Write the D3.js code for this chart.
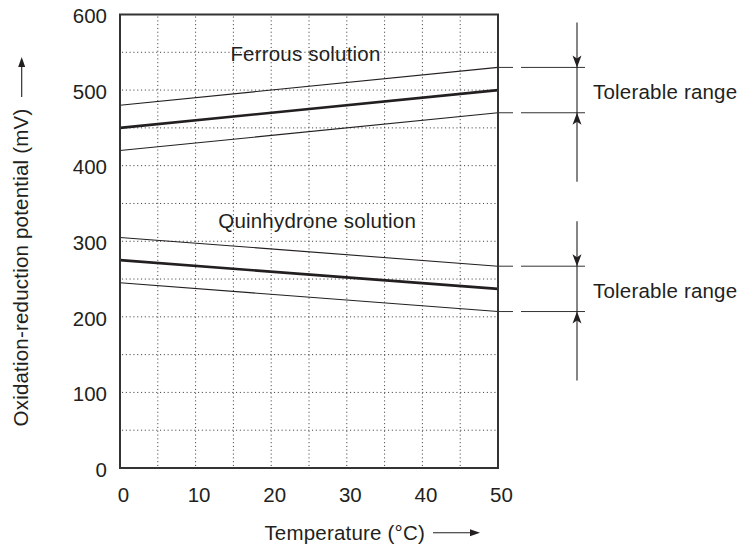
<!DOCTYPE html>
<html>
<head>
<meta charset="utf-8">
<script src="https://cdn.jsdelivr.net/npm/d3@7"></script>
<style>
  html, body { margin: 0; padding: 0; background: #fff; }
  svg { display: block; }
  text { font-family: "Liberation Sans", Arial, sans-serif; fill: #231f20; }
</style>
</head>
<body>
<svg id="chart" width="741" height="553"></svg>
<script>
// ---- data ----
const temperatures = [0, 50];
const ferrousUpper = [480, 530];
const ferrousCenter = [450, 500];
const ferrousLower = [420, 470];
const quinUpper = [305, 267];
const quinCenter = [275, 237];
const quinLower = [245, 207];
const xTicks = [0, 10, 20, 30, 40, 50];
const yTicks = [0, 100, 200, 300, 400, 500, 600];
const seriesLabels = ["Ferrous solution", "Quinhydrone solution"];
const rangeLabel = "Tolerable range";
const xTitle = "Temperature (°C)";
const yTitle = "Oxidation-reduction potential (mV)";

// ---- layout ----
const svg = d3.select("#chart");
const L = 120, R = 498, T = 14.5, B = 468;
const FS = 20.5;
const LS = "0.2px";
const x = d3.scaleLinear().domain([0, 50]).range([L, R]);
const y = d3.scaleLinear().domain([0, 600]).range([B, T]);
const ink = "#231f20";

// grid
const g = svg.append("g");
g.selectAll(".vg").data(d3.range(5, 50, 5)).join("line")
  .attr("x1", d => x(d)).attr("x2", d => x(d))
  .attr("y1", T + 2).attr("y2", B - 2)
  .attr("stroke", "#444").attr("stroke-width", 1).attr("stroke-dasharray", "1.1,2.7");
g.selectAll(".hg").data(d3.range(50, 600, 50)).join("line")
  .attr("x1", L + 2).attr("x2", R - 2)
  .attr("y1", d => y(d)).attr("y2", d => y(d))
  .attr("stroke", "#444").attr("stroke-width", 1).attr("stroke-dasharray", "1.1,2.7");

// lines
const line = d3.line().x((d, i) => x(temperatures[i])).y(d => y(d));
const series = [
  {v: ferrousUpper, w: 1.1}, {v: ferrousCenter, w: 2.6}, {v: ferrousLower, w: 1.1},
  {v: quinUpper, w: 1.1}, {v: quinCenter, w: 2.6}, {v: quinLower, w: 1.1}
];
svg.selectAll(".s").data(series).join("path")
  .attr("d", d => line(d.v)).attr("fill", "none")
  .attr("stroke", ink).attr("stroke-width", d => d.w);

// frame
svg.append("rect").attr("x", L).attr("y", T).attr("width", R - L).attr("height", B - T)
  .attr("fill", "none").attr("stroke", "#333").attr("stroke-width", 2);

// axes
const xa = svg.append("g").attr("transform", `translate(3,${B})`)
  .call(d3.axisBottom(x).tickValues(xTicks).tickSize(0).tickPadding(19).tickFormat(d3.format("d")));
xa.select(".domain").remove();
xa.selectAll("text").style("font-size", FS + "px").attr("fill", ink);
const ya = svg.append("g").attr("transform", `translate(${L},0)`)
  .call(d3.axisLeft(y).tickValues(yTicks).tickSize(0).tickPadding(13).tickFormat(d3.format("d")));
ya.select(".domain").remove();
ya.selectAll("text").style("font-size", FS + "px").attr("fill", ink).attr("dy", "0.4em");

// series labels
const labelPos = [[14.6, 538], [13.0, 317]];
svg.selectAll(".sl").data(seriesLabels).join("text")
  .attr("x", (d, i) => x(labelPos[i][0])).attr("y", (d, i) => y(labelPos[i][1]))
  .style("font-size", FS + "px").style("letter-spacing", LS).text(d => d);

// tolerable range annotations
const groups = [
  {hi: ferrousUpper[1], lo: ferrousLower[1]},
  {hi: quinUpper[1], lo: quinLower[1]}
];
const ax = 577;
const arrowHead = "M0,0 L-4.5,-12 L0,-9 L4.5,-12 Z";
groups.forEach(gr => {
  const yh = y(gr.hi), yl = y(gr.lo);
  [yh, yl].forEach(yy => {
    svg.append("line").attr("x1", R).attr("x2", 513).attr("y1", yy).attr("y2", yy)
      .attr("stroke", "#333").attr("stroke-width", 1);
    svg.append("line").attr("x1", 521).attr("x2", 585).attr("y1", yy).attr("y2", yy)
      .attr("stroke", "#333").attr("stroke-width", 1);
  });
  svg.append("line").attr("x1", ax).attr("x2", ax).attr("y1", yh - 45).attr("y2", yl + 69)
    .attr("stroke", ink).attr("stroke-width", 1.1);
  svg.append("path").attr("d", arrowHead).attr("fill", ink)
    .attr("transform", `translate(${ax},${yh})`);
  svg.append("path").attr("d", arrowHead).attr("fill", ink)
    .attr("transform", `translate(${ax},${yl}) rotate(180)`);
  svg.append("text").attr("x", 593).attr("y", (yh + yl) / 2 + 9)
    .style("font-size", FS + "px").style("letter-spacing", LS).text(rangeLabel);
});

// x title
svg.append("text").attr("x", 344.7).attr("y", 540).attr("text-anchor", "middle")
  .style("font-size", FS + "px").style("letter-spacing", LS).text(xTitle);
svg.append("line").attr("x1", 433).attr("x2", 472).attr("y1", 532.7).attr("y2", 532.7)
  .attr("stroke", ink).attr("stroke-width", 1.1);
svg.append("path").attr("d", "M0,0 L-10,-3.5 L-10,3.5 Z").attr("fill", ink)
  .attr("transform", "translate(480,532.7)");

// y title
svg.append("text").attr("transform", "translate(28,267.5) rotate(-90)")
  .attr("text-anchor", "middle")
  .style("font-size", FS + "px").style("letter-spacing", LS).text(yTitle);
svg.append("line").attr("x1", 21.7).attr("x2", 21.7).attr("y1", 97).attr("y2", 66)
  .attr("stroke", ink).attr("stroke-width", 1.1);
svg.append("path").attr("d", "M0,0 L-3.5,10 L3.5,10 Z").attr("fill", ink)
  .attr("transform", "translate(21.7,57)");
</script>
</body>
</html>
